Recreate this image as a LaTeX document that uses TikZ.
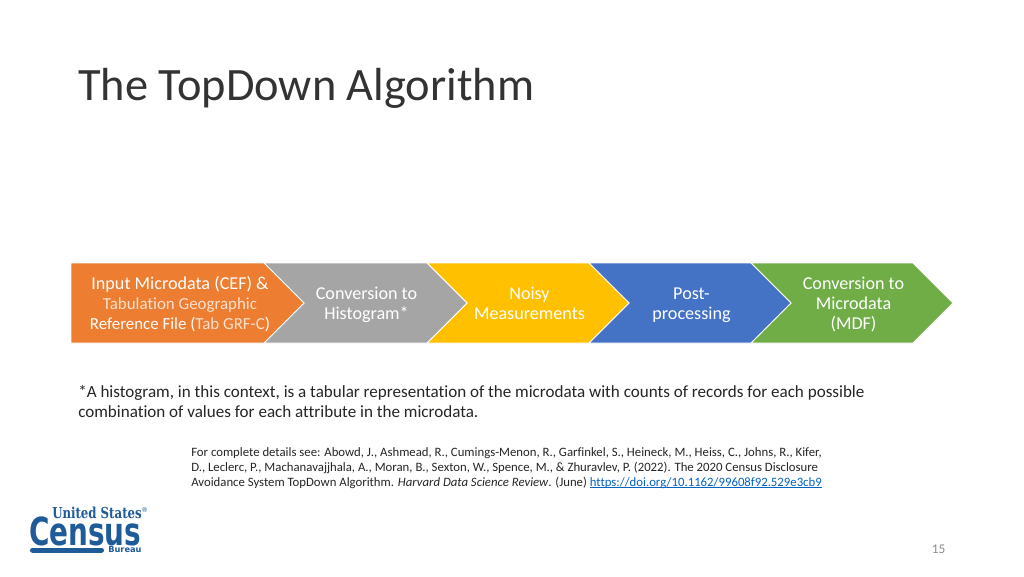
\documentclass[tikz,border=0pt]{standalone}
\usepackage{fontspec}
\setmainfont[Ligatures=NoCommon]{Carlito}
\newfontfamily\logofont{DejaVu Serif}
\newfontfamily\logosans{DejaVu Sans}
\definecolor{cOrange}{HTML}{ED7D31}
\definecolor{cGray}{HTML}{A5A5A5}
\definecolor{cYellow}{HTML}{FFC000}
\definecolor{cBlue}{HTML}{4472C4}
\definecolor{cGreen}{HTML}{70AD47}
\definecolor{cTitle}{HTML}{333333}
\definecolor{cText}{HTML}{262626}
\definecolor{cLink}{HTML}{0563C1}
\definecolor{cPage}{HTML}{8C8C8C}
\definecolor{cLogo}{HTML}{1F5A99}
\definecolor{cSoft}{HTML}{FCE0CE}
\newcommand\linkul[1]{\setbox0\hbox{#1}\rlap{\rule[-1.1pt]{\wd0}{0.45pt}}\box0}
\newcommand\smallerline{\fontsize{12.67}{15}\selectfont}
\tikzset{
  x=0.75pt,y=-0.75pt,
  chev/.style={draw=white,line width=0.6pt,line join=miter},
  chevtext/.style={text=white,align=center,font=\fontsize{13.6}{15}\selectfont,inner sep=0pt},
  line/.style={anchor=base west,inner sep=0pt,text=cText,font=\fontsize{12.8}{14}\selectfont},
  small/.style={anchor=base west,inner sep=0pt,text=cText,font=\fontsize{9.57}{10}\selectfont},
  logotext/.style={anchor=base west,inner sep=0pt,text=cLogo},
}
\begin{document}
\begin{tikzpicture}
\useasboundingbox (0,0) rectangle (1024,576);
\fill[white] (0,0) rectangle (1024,576);
\node[anchor=west,inner sep=0pt,text=cTitle,font=\fontsize{34.8}{36}\selectfont] (title) at (78,88) {The TopDown Algorithm};
\path[fill=cGreen,chev] (751,263) -- (913,263) -- (953,303) -- (913,343) -- (751,343) -- (791,303) -- cycle;
\path[fill=cBlue,chev] (589,263) -- (751,263) -- (791,303) -- (751,343) -- (589,343) -- (629,303) -- cycle;
\path[fill=cYellow,chev] (427,263) -- (589,263) -- (629,303) -- (589,343) -- (427,343) -- (467,303) -- cycle;
\path[fill=cGray,chev] (264,263) -- (427,263) -- (467,303) -- (427,343) -- (264,343) -- (304,303) -- cycle;
\path[fill=cOrange,chev] (71,263) -- (264,263) -- (304,303) -- (264,343) -- (71,343) -- cycle;
\node[chevtext] (n1) at (180,304) {Input Microdata (CEF) \&\\\smallerline\textcolor{cSoft}{Tabulation Geographic}\\\smallerline Reference File (\textcolor{cSoft}{Tab GRF-C})};
\node[chevtext] (n2) at (366.5,305) {Conversion to\\Histogram*};
\node[chevtext] (n3) at (529.5,303.5) {Noisy\\Measurements};
\node[chevtext] (n4) at (691.5,305) {Post-\\processing};
\node[chevtext] (n5) at (853.5,305) {Conversion to\\Microdata\\(MDF)};
\node[line] (a1) at (78,397.5) {*A histogram, in this context, is a tabular representation of the microdata with counts of records for each possible};
\node[line] (a2) at (78,417.5) {combination of values for each attribute in the microdata.};
\node[small] (b1) at (191,456.3) {For complete details see: Abowd, J., Ashmead, R., Cumings-Menon, R., Garfinkel, S., Heineck, M., Heiss, C., Johns, R., Kifer,};
\node[small] (b2) at (191,471.3) {D., Leclerc, P., Machanavajjhala, A., Moran, B., Sexton, W., Spence, M., \& Zhuravlev, P. (2022). The 2020 Census Disclosure};
\node[small] (b3) at (191,486.3) {Avoidance System TopDown Algorithm. \textit{Harvard Data Science Review}. (June) \textcolor{cLink}{\linkul{https://doi.org/10.1162/99608f92.529e3cb9}}};
\node[anchor=center,inner sep=0pt,text=cPage,font=\fontsize{10}{12}\selectfont] (page) at (938.5,549.5) {15};
% logo
\node[logotext,font=\logofont\bfseries\fontsize{11.3}{12}\selectfont] (l1) at (52,518) {\scalebox{0.78}[1]{United States}};
\node[logotext,font=\logosans\bfseries\fontsize{29}{30}\selectfont] (l2) at (29,545) {\scalebox{0.72}[1]{Census}};
\node[logotext,font=\logosans\bfseries\fontsize{6.2}{8}\selectfont] (l3) at (108,552) {Bureau};
\node[logotext,font=\logosans\fontsize{5}{5}\selectfont] (l4) at (141,512) {®};
\draw[cLogo,line width=3.75pt,line cap=round] (32.5,550) -- (101.5,550);
\end{tikzpicture}
\end{document}
